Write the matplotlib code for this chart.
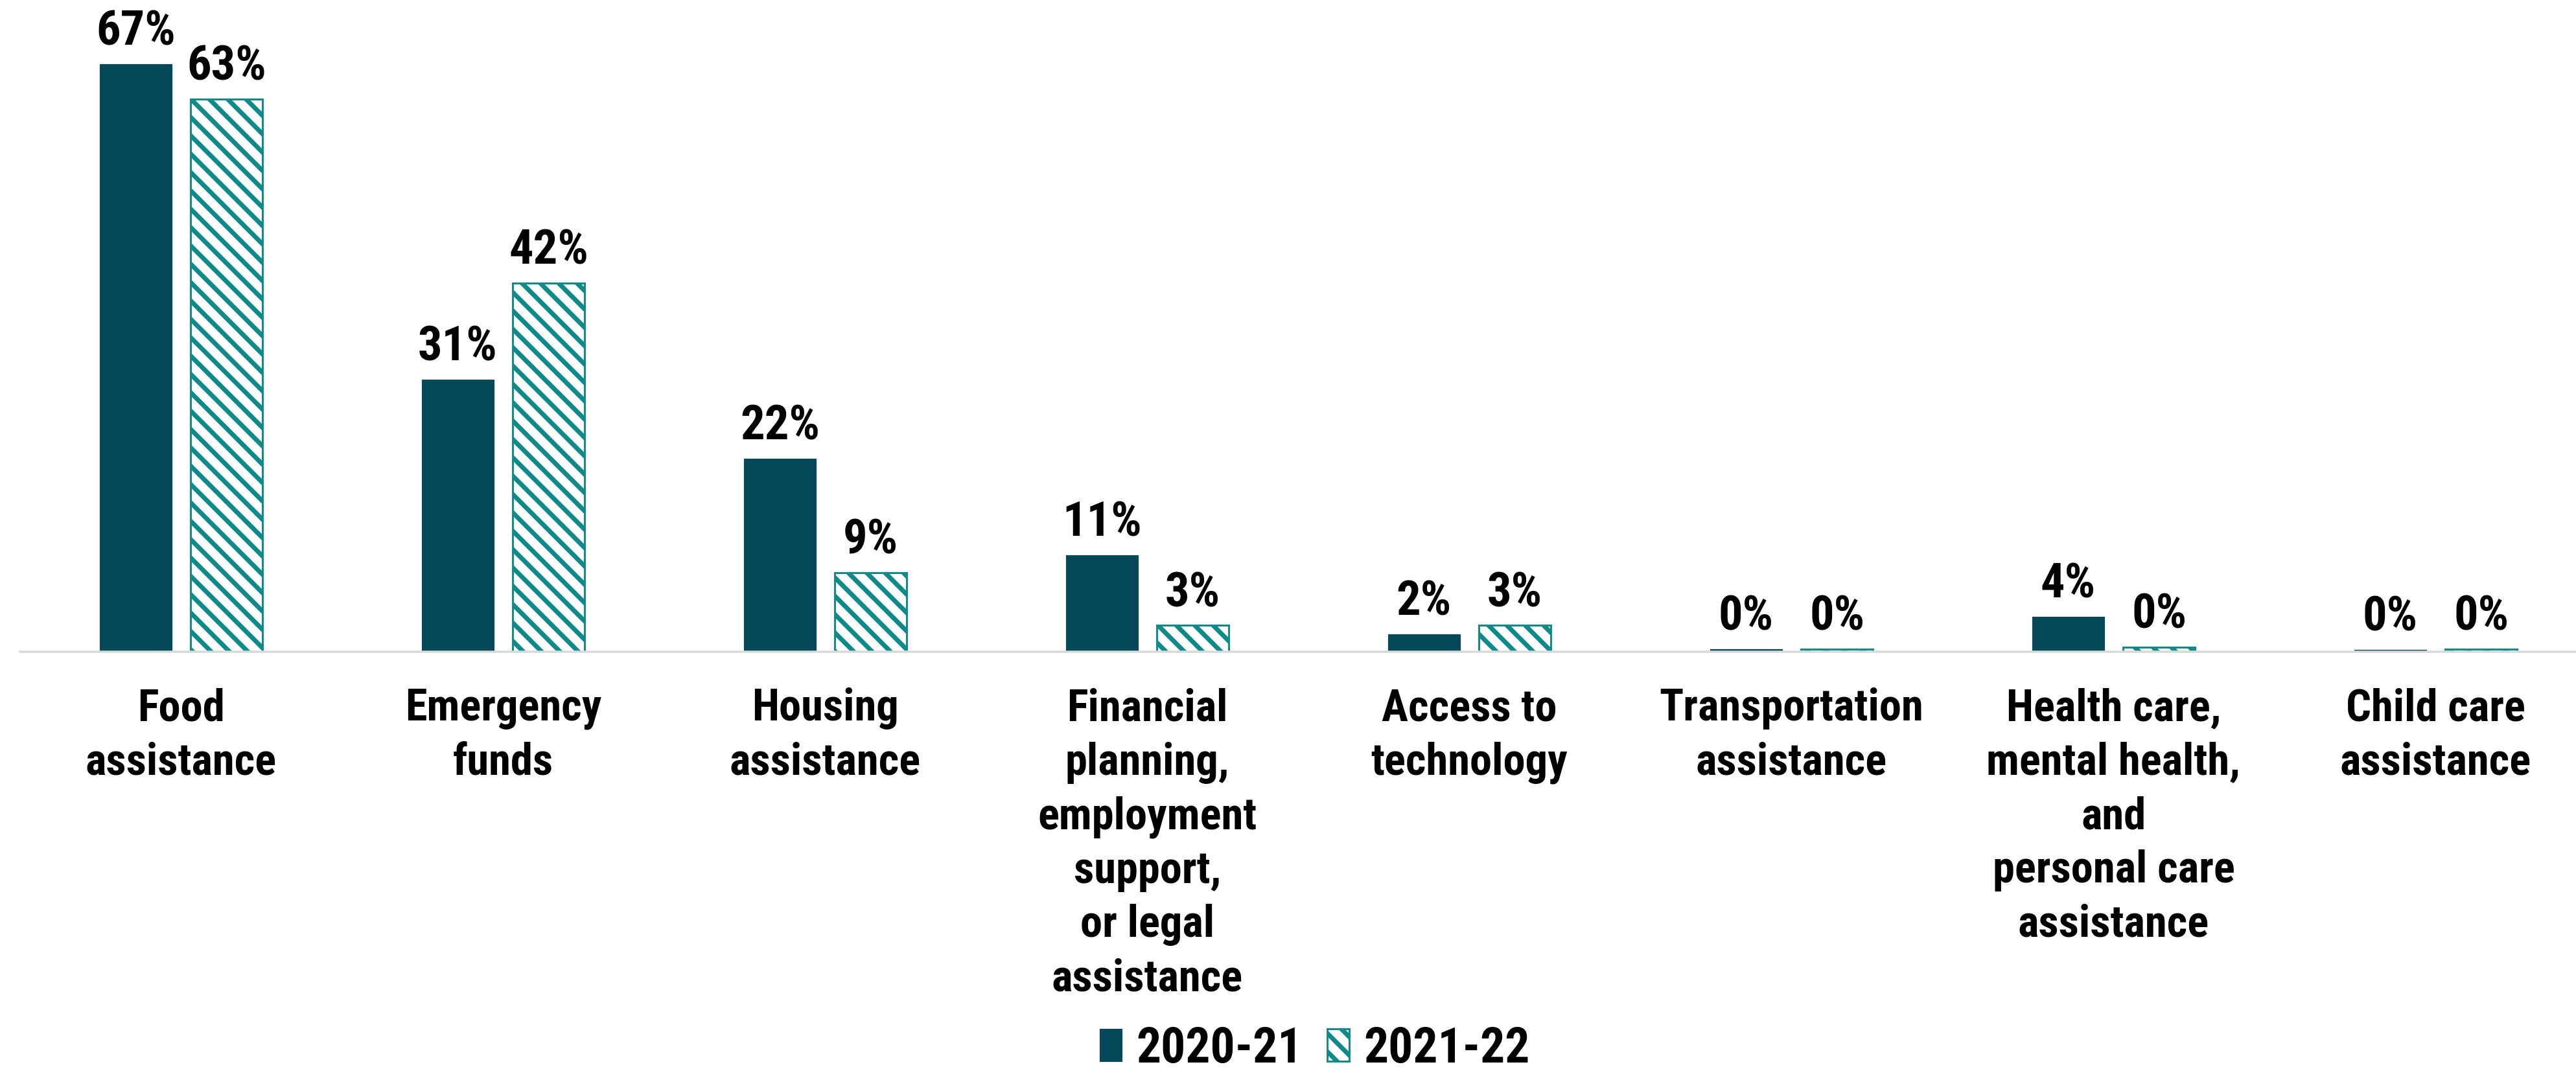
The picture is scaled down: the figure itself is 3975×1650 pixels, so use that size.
import matplotlib
matplotlib.use("Agg")
import matplotlib.pyplot as plt
import numpy as np

# Share of respondents receiving each kind of support, by school year
categories = [
    "Food\nassistance",
    "Emergency\nfunds",
    "Housing\nassistance",
    "Financial\nplanning,\nemployment\nsupport,\nor legal\nassistance",
    "Access to\ntechnology",
    "Transportation\nassistance",
    "Health care,\nmental health,\nand\npersonal care\nassistance",
    "Child care\nassistance",
]
series_names = ["2020-21", "2021-22"]
values_2020_21 = [67, 31, 22, 11, 2, 0.3, 4, 0.2]
values_2021_22 = [63, 42, 9, 3, 3, 0.3, 0.5, 0.3]

DARK = "#05485a"
TEAL = "#0e8a8a"
FONT = ["Roboto Condensed", "Liberation Sans Narrow", "DejaVu Sans"]
FS = 58
FS_VALUE = 63

plt.rcParams["font.family"] = FONT
plt.rcParams["hatch.linewidth"] = 6
plt.rcParams["hatch.color"] = TEAL

W, H, DPI = 3976, 1651, 85
fig = plt.figure(figsize=(W / DPI, H / DPI), dpi=DPI)
fig.patch.set_facecolor("white")

ax = fig.add_axes([31 / W, (H - 1007) / H, 8 * 497 / W, 948 / H])

x = np.arange(len(categories))
width = 0.225
offset = 0.141

b1 = ax.bar(x - offset, values_2020_21, width, color=DARK, edgecolor=DARK,
            linewidth=1, label=series_names[0])
b2 = ax.bar(x + offset, values_2021_22, width, color="white", edgecolor=TEAL,
            linewidth=2.5, hatch="\\", label=series_names[1])

for bars, vals in ((b1, values_2020_21), (b2, values_2021_22)):
    for rect, v in zip(bars, vals):
        ax.annotate(f"{v:.0f}%",
                    (rect.get_x() + rect.get_width() / 2, rect.get_height()),
                    xytext=(0, 13), textcoords="offset points",
                    ha="center", va="bottom", fontsize=FS_VALUE,
                    fontweight="bold", annotation_clip=False)

ax.set_xlim(-0.5, len(categories) - 0.5)
ax.set_ylim(0, 70)
ax.set_xticks(x)
ax.set_xticklabels(categories, fontsize=FS, fontweight="bold", linespacing=1.36)
ax.tick_params(axis="x", length=0, pad=46)
ax.set_yticks([])
for side in ("top", "right", "left"):
    ax.spines[side].set_visible(False)
ax.spines["bottom"].set_color("#d9d9d9")
ax.spines["bottom"].set_linewidth(3)

fig.legend(handles=[b1, b2], labels=series_names, loc="center",
           bbox_to_anchor=(2029 / W, 1 - 1620 / H), ncol=2, frameon=False,
           prop={"size": 64, "weight": "bold"}, handlelength=0.45,
           handleheight=0.63, handletextpad=0.3, columnspacing=0.5,
           borderpad=0.0)

fig.savefig("out.png", dpi=DPI, facecolor="white")
